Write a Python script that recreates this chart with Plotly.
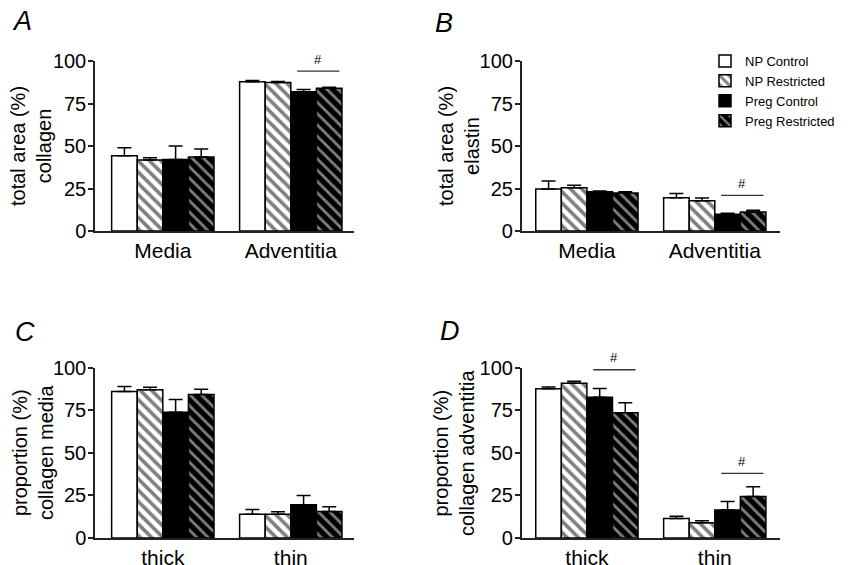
import plotly.graph_objects as go

# ---------------- data ----------------
groups = ["NP Control", "NP Restricted", "Preg Control", "Preg Restricted"]

cats_AB = ["Media", "Adventitia"]
cats_CD = ["thick", "thin"]

# Panel A: total area (%) collagen
A_mean = [[44.3, 87.8], [41.8, 87.4], [42.0, 81.9], [43.5, 84.0]]
A_err = [[4.7, 0.7], [1.3, 0.5], [8.0, 1.4], [4.7, 0.5]]

# Panel B: total area (%) elastin
B_mean = [[24.7, 19.6], [25.5, 17.8], [23.1, 9.8], [22.4, 11.2]]
B_err = [[4.7, 2.4], [1.4, 1.6], [0.4, 0.6], [0.7, 1.0]]

# Panel C: proportion (%) collagen media
C_mean = [[86.0, 14.0], [87.0, 14.0], [73.8, 19.5], [84.3, 15.5]]
C_err = [[3.0, 2.8], [1.5, 1.4], [7.5, 5.5], [3.0, 2.9]]

# Panel D: proportion (%) collagen adventitia
D_mean = [[87.6, 11.4], [90.8, 9.0], [82.7, 16.5], [73.5, 24.3]]
D_err = [[1.0, 1.3], [1.2, 1.2], [5.1, 5.0], [5.9, 5.8]]

y_ticks = [0, 25, 50, 75, 100]

panel_letters = ["A", "B", "C", "D"]
panel_ytitles = [
    "total area (%)<br>collagen",
    "total area (%)<br>elastin",
    "proportion (%)<br>collagen media",
    "proportion (%)<br>collagen adventitia",
]

# significance markers: panel index, category index, bar height
sig_panel = [0, 1, 3, 3]
sig_cat = [1, 1, 0, 1]
sig_y = [94, 21, 98.8, 38]
sig_label = ["#", "#", "#", "#"]

# ---------------- styling ----------------
FONT = "Liberation Sans, Arial, Helvetica, sans-serif"
OFF = 8                      # page body margin of the html page
W, H = 856 - OFF, 565 - OFF  # figure size so the page fills the window


def px(x):
    return (x - OFF) / W


def py(y):
    return 1 - (y - OFF) / H


fills = [
    dict(color="white", pattern=dict(shape="")),
    dict(color="white", pattern=dict(shape="\\", fgcolor="black", bgcolor="white",
                                     size=8, solidity=0.45)),
    dict(color="black", pattern=dict(shape="")),
    dict(color="black", pattern=dict(shape="\\", fgcolor="white", bgcolor="black",
                                     size=8, solidity=0.35)),
]

# pixel geometry of each panel in the window (left, right, top, bottom)
px_x = [(95, 353.5), (521.7, 780), (95, 353.5), (521.7, 780)]
px_y = [(61, 231), (61, 231), (367.7, 538), (367.7, 538)]
x_ranges = [[-0.53, 1.49], [-0.51, 1.51], [-0.53, 1.49], [-0.51, 1.51]]

panels = [
    (cats_AB, A_mean, A_err),
    (cats_AB, B_mean, B_err),
    (cats_CD, C_mean, C_err),
    (cats_CD, D_mean, D_err),
]

fig = go.Figure()
layout = {}
annotations = []
shapes = []

for p, (cats, means, errs) in enumerate(panels):
    ax = "" if p == 0 else str(p + 1)
    xname, yname = "x" + ax, "y" + ax
    for g, name in enumerate(groups):
        fig.add_trace(go.Bar(
            x=cats, y=means[g], name=name,
            xaxis=xname, yaxis=yname,
            marker=dict(color=fills[g]["color"], pattern=fills[g]["pattern"],
                        line=dict(color="black", width=1.5)),
            error_y=dict(type="data", array=errs[g], arrayminus=[0] * len(cats),
                         symmetric=False, color="black", thickness=1.5, width=7),
            showlegend=(p == 1), legendgroup=name, offsetgroup=str(g),
        ))
    x0, x1 = px_x[p]
    yt, yb = px_y[p]
    layout["xaxis" + ax] = dict(
        domain=[px(x0), px(x1)], anchor=yname, range=x_ranges[p],
        showline=True, linecolor="#222", linewidth=1.5, ticks="",
        tickfont=dict(size=21, family=FONT, color="black"),
        showgrid=False, zeroline=False, fixedrange=True,
    )
    layout["yaxis" + ax] = dict(
        domain=[py(yb), py(yt)], anchor=xname, range=[0, 100],
        tickvals=y_ticks, showline=True, linecolor="#222", linewidth=1.5,
        ticks="outside", ticklen=5, tickwidth=1.5, tickcolor="#222",
        ticklabelstandoff=-2,
        tickfont=dict(size=20, family=FONT, color="black"),
        showgrid=False, zeroline=False, fixedrange=True,
    )

# panel letters
letter_pos = [(22, 21), (444, 23), (25, 332), (450, 331)]
for p, (lx, ly) in enumerate(letter_pos):
    annotations.append(dict(
        text="<i>%s</i>" % panel_letters[p], xref="paper", yref="paper",
        x=px(lx), y=py(ly), xanchor="center", yanchor="middle",
        showarrow=False, font=dict(size=27, family=FONT, color="black"),
    ))

# y-axis titles
ytitle_pos = [(31, 146), (459, 146), (33, 453), (454, 453)]
for p, (tx, ty) in enumerate(ytitle_pos):
    annotations.append(dict(
        text=panel_ytitles[p], xref="paper", yref="paper",
        x=px(tx), y=py(ty), xanchor="center", yanchor="middle",
        textangle=-90, showarrow=False, align="center",
        font=dict(size=20, family=FONT, color="black"),
    ))

# significance bars
for i in range(len(sig_panel)):
    p = sig_panel[i]
    ax = "" if p == 0 else str(p + 1)
    c = sig_cat[i]
    xa, xb = c + 0.05, c + 0.38
    shapes.append(dict(type="line", xref="x" + ax, yref="y" + ax,
                       x0=xa, x1=xb, y0=sig_y[i], y1=sig_y[i],
                       line=dict(color="#333", width=1.3)))
    annotations.append(dict(
        text=sig_label[i], xref="x" + ax, yref="y" + ax,
        x=(xa + xb) / 2, y=sig_y[i], yshift=12, xanchor="center", yanchor="middle",
        showarrow=False, font=dict(size=13, family=FONT, color="black"),
    ))

fig.update_layout(
    **layout,
    width=W, height=H,
    margin=dict(l=0, r=0, t=0, b=0, autoexpand=False),
    paper_bgcolor="white", plot_bgcolor="white",
    barmode="group", bargap=0.2, bargroupgap=0,
    annotations=annotations, shapes=shapes,
    showlegend=True,
    legend=dict(x=px(705), y=py(46), xanchor="left", yanchor="top",
                font=dict(size=13, family=FONT, color="black"),
                bgcolor="rgba(0,0,0,0)", tracegroupgap=0, itemclick=False),
    font=dict(family=FONT, color="black"),
)

fig.write_html("out.html")
